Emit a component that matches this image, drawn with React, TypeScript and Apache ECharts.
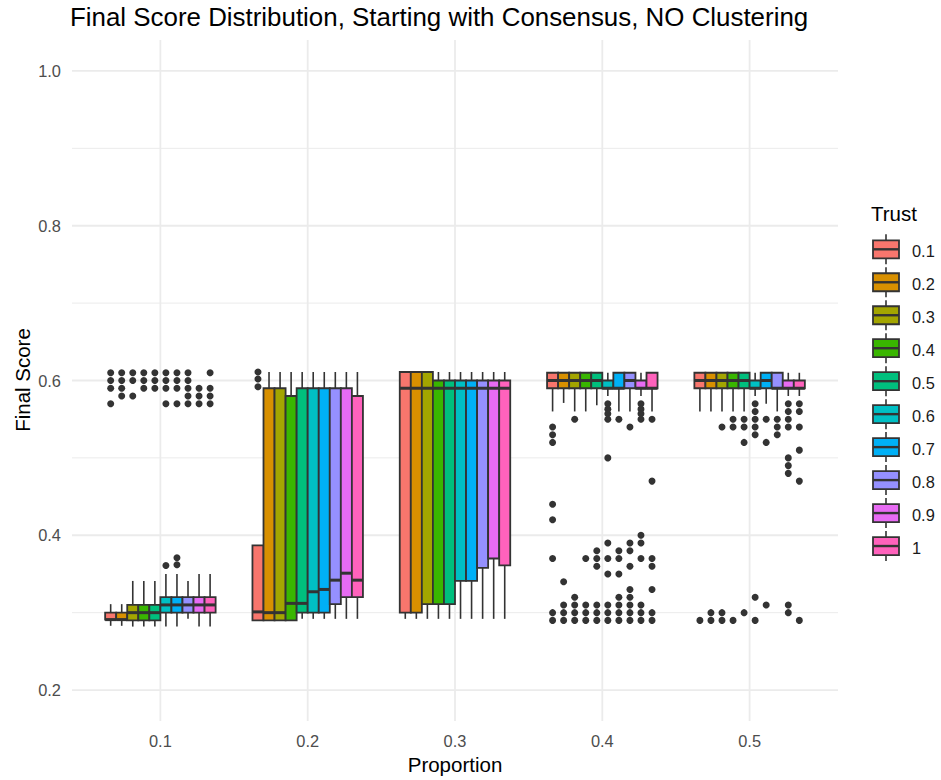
import React, { useEffect, useRef } from "react";
import * as echarts from "echarts";

// Categories and groups
const proportions = ["0.1", "0.2", "0.3", "0.4", "0.5"];
const trustLevels = ["0.1", "0.2", "0.3", "0.4", "0.5", "0.6", "0.7", "0.8", "0.9", "1"];
const trustColors = [
  "#F8766D", "#D89000", "#A3A500", "#39B600", "#00BF7D",
  "#00BFC4", "#00B0F6", "#9590FF", "#E76BF3", "#FF62BC",
];

// Y axis ticks
const yMajorTicks = [0.2, 0.4, 0.6, 0.8, 1.0];
const yMinorTicks = [0.3, 0.5, 0.7, 0.9];

// Box statistics per trust level: [lower whisker, Q1, median, Q3, upper whisker]
const boxesP01 = [
  [0.283, 0.291, 0.291, 0.3, 0.311],
  [0.283, 0.291, 0.291, 0.3, 0.311],
  [0.282, 0.29, 0.3, 0.31, 0.341],
  [0.282, 0.29, 0.3, 0.31, 0.341],
  [0.282, 0.29, 0.3, 0.31, 0.341],
  [0.282, 0.3, 0.31, 0.32, 0.35],
  [0.282, 0.3, 0.31, 0.32, 0.35],
  [0.292, 0.3, 0.31, 0.32, 0.341],
  [0.282, 0.3, 0.31, 0.32, 0.35],
  [0.282, 0.3, 0.31, 0.32, 0.35],
];
const boxesP02 = [
  [0.29, 0.29, 0.301, 0.387, 0.387],
  [0.29, 0.29, 0.3, 0.59, 0.611],
  [0.29, 0.29, 0.3, 0.59, 0.611],
  [0.29, 0.29, 0.312, 0.58, 0.611],
  [0.292, 0.3, 0.312, 0.59, 0.611],
  [0.292, 0.3, 0.327, 0.59, 0.611],
  [0.292, 0.3, 0.33, 0.59, 0.611],
  [0.292, 0.311, 0.342, 0.59, 0.611],
  [0.292, 0.32, 0.351, 0.59, 0.611],
  [0.292, 0.32, 0.342, 0.58, 0.611],
];
const boxesP03 = [
  [0.292, 0.3, 0.59, 0.611, 0.611],
  [0.292, 0.3, 0.59, 0.611, 0.611],
  [0.292, 0.311, 0.59, 0.611, 0.611],
  [0.292, 0.311, 0.59, 0.6, 0.611],
  [0.292, 0.311, 0.59, 0.6, 0.611],
  [0.292, 0.341, 0.59, 0.6, 0.611],
  [0.292, 0.341, 0.59, 0.6, 0.611],
  [0.292, 0.358, 0.59, 0.6, 0.611],
  [0.292, 0.37, 0.59, 0.6, 0.611],
  [0.292, 0.361, 0.59, 0.6, 0.611],
];
const boxesP04 = [
  [0.56, 0.59, 0.6, 0.61, 0.61],
  [0.571, 0.59, 0.6, 0.61, 0.61],
  [0.56, 0.59, 0.6, 0.61, 0.61],
  [0.56, 0.59, 0.6, 0.61, 0.61],
  [0.568, 0.59, 0.6, 0.61, 0.61],
  [0.58, 0.59, 0.59, 0.6, 0.61],
  [0.56, 0.59, 0.59, 0.61, 0.61],
  [0.56, 0.59, 0.6, 0.61, 0.61],
  [0.58, 0.59, 0.59, 0.6, 0.61],
  [0.56, 0.59, 0.59, 0.61, 0.61],
];
const boxesP05 = [
  [0.56, 0.59, 0.6, 0.61, 0.61],
  [0.56, 0.59, 0.6, 0.61, 0.61],
  [0.56, 0.59, 0.6, 0.61, 0.61],
  [0.56, 0.59, 0.6, 0.61, 0.61],
  [0.56, 0.59, 0.6, 0.61, 0.61],
  [0.58, 0.59, 0.59, 0.6, 0.61],
  [0.57, 0.59, 0.6, 0.61, 0.61],
  [0.56, 0.59, 0.59, 0.61, 0.61],
  [0.58, 0.59, 0.59, 0.6, 0.61],
  [0.58, 0.59, 0.59, 0.6, 0.61],
];

// Outlying final scores per trust level
const outliersP01 = [
  [0.61, 0.6, 0.59, 0.57],
  [0.61, 0.6, 0.59, 0.58],
  [0.61, 0.6, 0.58],
  [0.61, 0.6, 0.59],
  [0.61, 0.6, 0.59],
  [0.61, 0.6, 0.59, 0.57, 0.361],
  [0.61, 0.6, 0.59, 0.57, 0.371, 0.362],
  [0.61, 0.6, 0.59, 0.58, 0.57],
  [0.59, 0.58, 0.57],
  [0.61, 0.59, 0.58, 0.57],
];
const outliersP02 = [[0.611, 0.602, 0.592], [], [], [], [], [], [], [], [], []];
const outliersP03 = [[], [], [], [], [], [], [], [], [], []];
const outliersP04 = [
  [0.54, 0.53, 0.52, 0.44, 0.42, 0.37, 0.3, 0.29],
  [0.34, 0.31, 0.3, 0.29],
  [0.55, 0.32, 0.31, 0.3, 0.29],
  [0.37, 0.31, 0.3, 0.29],
  [0.38, 0.37, 0.36, 0.31, 0.3, 0.29],
  [0.57, 0.563, 0.557, 0.55, 0.5, 0.39, 0.37, 0.35, 0.31, 0.3, 0.29],
  [0.55, 0.38, 0.37, 0.35, 0.32, 0.31, 0.3, 0.29],
  [0.54, 0.39, 0.38, 0.36, 0.33, 0.32, 0.31, 0.3, 0.29],
  [0.57, 0.563, 0.557, 0.55, 0.4, 0.39, 0.37, 0.31, 0.3, 0.29],
  [0.55, 0.47, 0.37, 0.36, 0.33, 0.3, 0.29],
];
const outliersP05 = [
  [0.29],
  [0.3, 0.29],
  [0.54, 0.3, 0.29],
  [0.55, 0.54, 0.29],
  [0.55, 0.54, 0.52, 0.3],
  [0.57, 0.56, 0.55, 0.54, 0.53, 0.32, 0.29],
  [0.55, 0.52, 0.31],
  [0.55, 0.54, 0.53],
  [0.57, 0.56, 0.55, 0.54, 0.5, 0.49, 0.48, 0.31, 0.3],
  [0.57, 0.56, 0.54, 0.51, 0.47, 0.29],
];

const boxStats = [boxesP01, boxesP02, boxesP03, boxesP04, boxesP05];
const outlierSets = [outliersP01, outliersP02, outliersP03, outliersP04, outliersP05];

const FONT = "'Liberation Sans', Arial, Helvetica, sans-serif";
const INK = "#333333";
const DODGE = 0.75;
const BOX_W = DODGE / trustLevels.length;
const xPos = (p: number, t: number) => p + 1 - DODGE / 2 + BOX_W * (t + 0.5);

export default function App() {
  const ref = useRef<HTMLDivElement>(null);

  useEffect(() => {
    if (!ref.current) return;
    const chart = echarts.init(ref.current, null, { renderer: "svg" });

    const boxData = boxStats.flatMap((rows, p) =>
      rows.map((s, t) => [xPos(p, t), s[0], s[1], s[2], s[3], s[4], t])
    );
    const outlierData = outlierSets.flatMap((rows, p) =>
      rows.flatMap((vals, t) => vals.map((v) => [xPos(p, t), v]))
    );
    const gridData = [
      ...proportions.map((_, i) => [i + 1, 0]),
      ...yMajorTicks.map((v) => [v, 1]),
      ...yMinorTicks.map((v) => [v, 2]),
    ];

    // Legend keys drawn as small boxplot glyphs
    const legendChildren: any[] = [
      {
        type: "text",
        x: 871,
        y: 213,
        style: { text: "Trust", font: `20.5px ${FONT}`, fill: "#000000", textAlign: "left", textVerticalAlign: "middle" },
      },
    ];
    trustLevels.forEach((label, i) => {
      const cy = 249.3 + 32.97 * i;
      legendChildren.push(
        { type: "line", shape: { x1: 886, y1: cy - 15, x2: 886, y2: cy + 15 }, style: { stroke: INK, lineWidth: 1.6 } },
        { type: "rect", shape: { x: 873, y: cy - 9, width: 26, height: 18 }, style: { fill: trustColors[i], stroke: INK, lineWidth: 1.8 } },
        { type: "line", shape: { x1: 873, y1: cy, x2: 899, y2: cy }, style: { stroke: INK, lineWidth: 2.4 } },
        {
          type: "text",
          x: 912,
          y: cy + 1.5,
          style: { text: label, font: `16.4px ${FONT}`, fill: "#1a1a1a", textAlign: "left", textVerticalAlign: "middle" },
        }
      );
    });

    chart.setOption({
      animation: false,
      backgroundColor: "#ffffff",
      grid: { left: 72, right: 103, top: 40, bottom: 59 },
      xAxis: {
        type: "value",
        min: 0.4,
        max: 5.6,
        axisLine: { show: false },
        axisTick: { show: false },
        splitLine: { show: false },
        axisLabel: {
          customValues: [1, 2, 3, 4, 5],
          formatter: (v: number) => proportions[Math.round(v) - 1] ?? "",
          color: "#4d4d4d",
          fontSize: 16.4,
          fontFamily: FONT,
          margin: 12,
        },
      },
      yAxis: {
        type: "value",
        min: 0.16,
        max: 1.04,
        axisLine: { show: false },
        axisTick: { show: false },
        splitLine: { show: false },
        axisLabel: {
          customValues: yMajorTicks,
          formatter: (v: number) => v.toFixed(1),
          color: "#4d4d4d",
          fontSize: 16.4,
          fontFamily: FONT,
          margin: 11,
        },
      },
      graphic: [
        {
          type: "text",
          x: 70,
          y: 17,
          style: {
            text: "Final Score Distribution, Starting with Consensus, NO Clustering",
            font: `25.9px ${FONT}`,
            fill: "#000000",
            textAlign: "left",
            textVerticalAlign: "middle",
          },
        },
        {
          type: "text",
          x: 455,
          y: 764,
          style: { text: "Proportion", font: `20.5px ${FONT}`, fill: "#000000", textAlign: "center", textVerticalAlign: "middle" },
        },
        {
          type: "text",
          x: 22,
          y: 380,
          rotation: Math.PI / 2,
          style: { text: "Final Score", font: `20.5px ${FONT}`, fill: "#000000", textAlign: "center", textVerticalAlign: "middle" },
        },
        { type: "group", children: legendChildren },
      ],
      series: [
        {
          type: "custom",
          z: 0,
          silent: true,
          data: gridData,
          renderItem: (params: any, api: any) => {
            const v = api.value(0);
            const kind = api.value(1);
            const cs = params.coordSys;
            if (kind === 0) {
              const p = api.coord([v, 0.5]);
              return {
                type: "line",
                shape: { x1: p[0], y1: cs.y, x2: p[0], y2: cs.y + cs.height },
                style: { stroke: "#ebebeb", lineWidth: 1.8 },
              };
            }
            const p = api.coord([1, v]);
            return {
              type: "line",
              shape: { x1: cs.x, y1: p[1], x2: cs.x + cs.width, y2: p[1] },
              style: { stroke: "#ebebeb", lineWidth: kind === 1 ? 1.8 : 1 },
            };
          },
        },
        {
          type: "scatter",
          z: 1,
          silent: true,
          symbol: "circle",
          symbolSize: 7,
          itemStyle: { color: INK, opacity: 1 },
          data: outlierData,
        },
        {
          type: "custom",
          z: 2,
          silent: true,
          data: boxData,
          encode: { x: 0, y: [1, 2, 3, 4, 5] },
          renderItem: (params: any, api: any) => {
            const cx = api.value(0);
            const lo = api.coord([cx, api.value(1)]);
            const q1 = api.coord([cx, api.value(2)]);
            const med = api.coord([cx, api.value(3)]);
            const q3 = api.coord([cx, api.value(4)]);
            const hi = api.coord([cx, api.value(5)]);
            const t = api.value(6);
            const w = api.size([BOX_W, 0])[0];
            const x0 = q1[0] - w / 2;
            return {
              type: "group",
              children: [
                { type: "line", shape: { x1: hi[0], y1: hi[1], x2: q3[0], y2: q3[1] }, style: { stroke: INK, lineWidth: 1.6 } },
                { type: "line", shape: { x1: q1[0], y1: q1[1], x2: lo[0], y2: lo[1] }, style: { stroke: INK, lineWidth: 1.6 } },
                {
                  type: "rect",
                  shape: { x: x0, y: q3[1], width: w, height: q1[1] - q3[1] },
                  style: { fill: trustColors[t], stroke: INK, lineWidth: 1.8 },
                },
                { type: "line", shape: { x1: x0, y1: med[1], x2: x0 + w, y2: med[1] }, style: { stroke: INK, lineWidth: 3 } },
              ],
            };
          },
        },
      ],
    });

    return () => chart.dispose();
  }, []);

  return (
    <div
      ref={ref}
      style={{ position: "fixed", left: 0, top: 0, width: 941, height: 780, background: "#ffffff" }}
    />
  );
}
